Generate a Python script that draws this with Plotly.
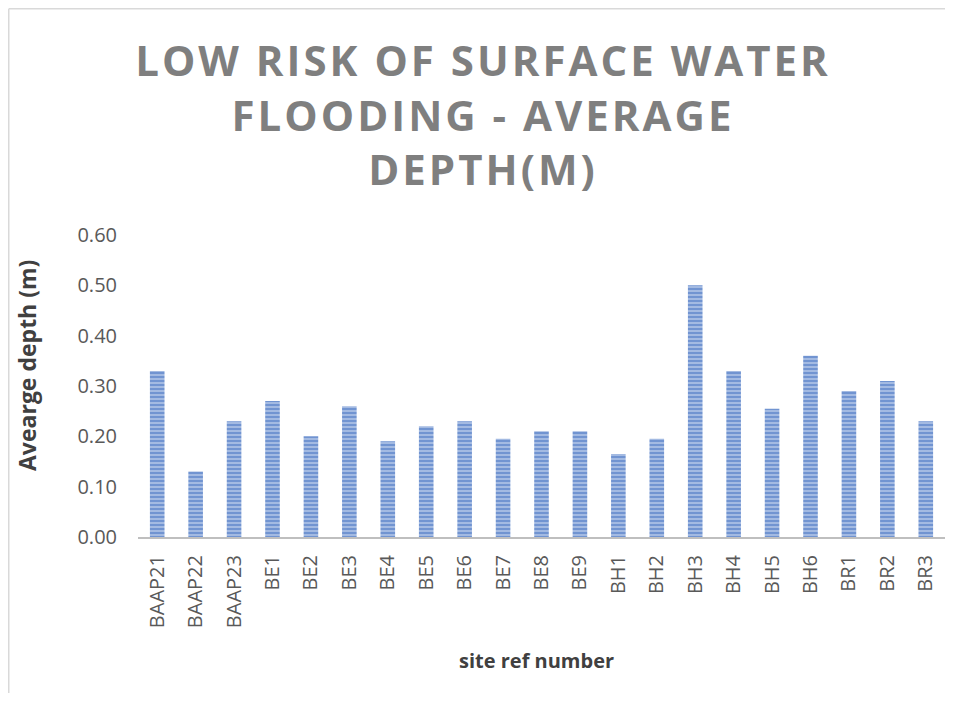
import plotly.graph_objects as go

sites = ["BAAP21", "BAAP22", "BAAP23", "BE1", "BE2", "BE3", "BE4", "BE5", "BE6", "BE7",
         "BE8", "BE9", "BH1", "BH2", "BH3", "BH4", "BH5", "BH6", "BR1", "BR2", "BR3"]
avg_depth = [0.33, 0.13, 0.23, 0.27, 0.20, 0.26, 0.19, 0.22, 0.23, 0.195,
             0.21, 0.21, 0.165, 0.195, 0.50, 0.33, 0.255, 0.36, 0.29, 0.31, 0.23]
y_ticks = [0.0, 0.1, 0.2, 0.3, 0.4, 0.5, 0.6]

fig = go.Figure(go.Bar(
    x=sites, y=avg_depth, width=0.38,
    marker=dict(color="#A3BAE2",
                line=dict(width=0),
                pattern=dict(shape="-", fgcolor="#3F6DBF", size=4, solidity=0.5)),
))

# page body has an 8px margin, so figure coords = screen coords - 8
OFF = 8
W, H = 937, 685
L, R, T, B = 138 - OFF, 945 - OFF, 235 - OFF, 537 - OFF
def px_x(p): return (p - OFF - L) / (R - L)
def px_y(p): return (B - (p - OFF)) / (B - T)
def fx(p): return (p - L) / (R - L)   # figure px -> paper
def fy(p): return (B - p) / (B - T)

title_txt = '<span style="letter-spacing:3px">LOW RISK OF SURFACE WATER<br>FLOODING - AVERAGE<br>DEPTH(M)</span>'

fig.update_layout(
    width=W, height=H,
    margin=dict(l=L, r=W - R, t=T, b=H - B, autoexpand=False),
    paper_bgcolor="white", plot_bgcolor="white",
    font=dict(family="Open Sans, Calibri, sans-serif", color="#595959"),
    title=dict(text=title_txt,
               x=(483 - OFF) / W, xanchor="center", y=1 - (76 - OFF) / H, yanchor="middle",
               font=dict(size=42, color="#7F7F7F", family="Open Sans, sans-serif", weight="bold")),
    showlegend=False,
    xaxis=dict(tickangle=-90, tickfont=dict(size=20, color="#595959"),
               showline=True, linecolor="#BFBFBF", linewidth=2, ticks="",
               ticklabelstandoff=8, automargin=False),
    yaxis=dict(range=[0, 0.6], tickvals=y_ticks, tickformat=".2f",
               tickfont=dict(size=20, color="#595959"), showgrid=False, zeroline=False,
               ticks="", ticklabelstandoff=20, automargin=False),
    annotations=[
        dict(text="<b>site ref number</b>", xref="paper", yref="paper",
             x=px_x(536), y=px_y(660), xanchor="center", yanchor="middle",
             showarrow=False, font=dict(size=20, color="#404040")),
        dict(text="<b>Avearge depth (m)</b>", xref="paper", yref="paper",
             x=px_x(27), y=px_y(366), xanchor="center", yanchor="middle", textangle=-90,
             showarrow=False, font=dict(size=23, color="#404040")),
    ],
    shapes=[
        dict(type="line", xref="paper", yref="paper",
             x0=fx(0.75), x1=fx(W + 5), y0=fy(0.75), y1=fy(0.75),
             line=dict(color="#D9D9D9", width=1.5), layer="below"),
        dict(type="line", xref="paper", yref="paper",
             x0=fx(0.75), x1=fx(0.75), y0=fy(0.75), y1=fy(H + 5),
             line=dict(color="#D9D9D9", width=1.5), layer="below"),
    ],
)

fig.write_html("out.html")
